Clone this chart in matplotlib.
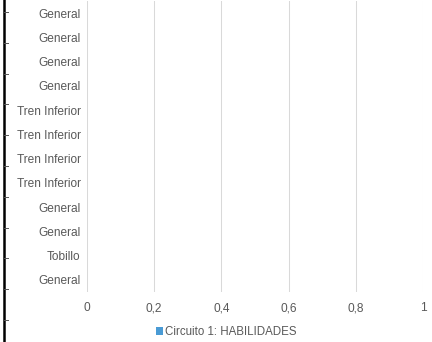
import matplotlib
matplotlib.use('Agg')
from matplotlib import pyplot as plt
from matplotlib.lines import Line2D
from matplotlib.ticker import FuncFormatter

# categorias de arriba hacia abajo
categorias = ['General', 'General', 'General', 'General',
              'Tren Inferior', 'Tren Inferior', 'Tren Inferior', 'Tren Inferior',
              'General', 'General', 'Tobillo', 'General']
valores = [0, 0, 0, 0, 0, 0, 0, 0, 0, 0, 0, 0]
serie = 'Circuito 1: HABILIDADES'
x_ticks = [0, 0.2, 0.4, 0.6, 0.8, 1]

W, H = 432, 342
AZUL = '#4A9BD5'
GRIS_TXT = '#595959'
GRIS_GRID = '#D9D9D9'

plt.rcParams['font.family'] = ['Liberation Sans', 'DejaVu Sans']

fig = plt.figure(figsize=(W / 100, H / 100), dpi=100)
ax = fig.add_axes([87 / W, (H - 292) / H, (423 - 87) / W, 291 / H])

pos = list(range(len(categorias)))
barras = ax.barh(pos, valores, height=0.6, color=AZUL, label=serie)

ax.set_yticks(pos)
ax.set_yticklabels(categorias)
ax.set_ylim(len(categorias) - 0.5, -0.5)
ax.set_xlim(0, 1)
ax.set_xticks(x_ticks)
ax.xaxis.set_major_formatter(FuncFormatter(lambda v, p: ('%g' % v).replace('.', ',')))

ax.grid(axis='x', color=GRIS_GRID, linewidth=0.75)
ax.set_axisbelow(True)
for s in ax.spines.values():
    s.set_visible(False)
ax.tick_params(axis='both', length=0, labelsize=8.6, labelcolor=GRIS_TXT)
ax.tick_params(axis='y', pad=4.5)
ax.tick_params(axis='x', pad=7.5)

leg = fig.legend(handles=[barras], labels=[serie], loc='center',
                 bbox_to_anchor=(226 / W, 1 - 332 / H), frameon=False,
                 fontsize=8.3, labelcolor=GRIS_TXT, handlelength=0.6,
                 handleheight=0.75, handletextpad=0.15)

# borde negro del marco a la izquierda
fig.add_artist(Line2D([3.5 / W, 3.5 / W], [0, 1], color='black', linewidth=1.8))
y = 12
while y < H:
    fig.add_artist(Line2D([3.5 / W, 8 / W], [1 - y / H, 1 - y / H],
                          color='#555555', linewidth=0.7))
    y += 30.8

fig.savefig('out.png', dpi=100)
